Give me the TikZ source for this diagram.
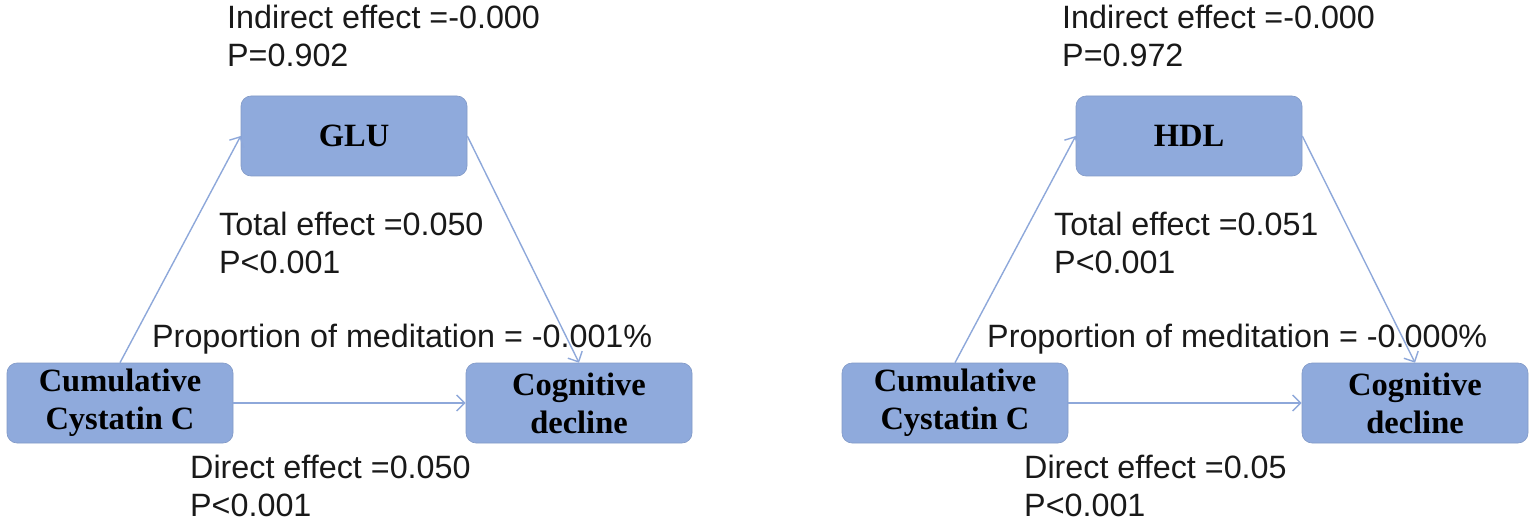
\documentclass[tikz,border=0pt]{standalone}
\usepackage{fontspec}
\setmainfont{Liberation Sans}
\newfontfamily\boxfont{Liberation Serif}
\usetikzlibrary{arrows.meta}
\definecolor{boxblue}{HTML}{8FAADC}
\definecolor{lineblue}{HTML}{8EA8DA}
\tikzstyle{blue box}=[
        draw = boxblue!90!black,
        line width = 0.6pt,
        fill = boxblue,
        rounded corners = 10pt,
        minimum width = 226pt,
        minimum height = 80pt,
        align = center,
        font = \boxfont\bfseries\fontsize{32.5}{38}\selectfont
    ]
\tikzstyle{effect text}=[
        anchor = base west,
        inner sep = 0pt,
        align = left,
        text = black!90,
        font = \fontsize{32.3}{38}\selectfont
    ]

\begin{document}
\begin{tikzpicture}[x=1pt, y=-1pt, >={Straight Barb[length=8pt,width=16pt]}, link/.style = {->, draw = lineblue, line width = 1.4pt}]
        \useasboundingbox (0,0) rectangle (1535,524);

        % left panel
        \node[blue box] (M1) at (354,136) {GLU};
        \node[blue box] (X1) at (120,403) {Cumulative\\Cystatin C};
        \node[blue box] (Y1) at (579,403) {Cognitive\\decline};

        \draw[link] (X1.north) -- (M1.west);
        \draw[link] (M1.east) -- (Y1.north);
        \draw[link] (X1.east) -- (Y1.west);

        % base west sits on the last line
        \node[effect text] (I1) at (227,67) {Indirect effect =-0.000\\P=0.902};
        \node[effect text] (T1) at (219,273) {Total effect =0.050\\P<0.001};
        \node[effect text] (R1) at (152,347) {Proportion of meditation = -0.001\%};
        \node[effect text] (D1) at (190,516) {Direct effect =0.050\\P<0.001};

        % right panel
        \node[blue box] (M2) at (1189,136) {HDL};
        \node[blue box] (X2) at (955,403) {Cumulative\\Cystatin C};
        \node[blue box] (Y2) at (1415,403) {Cognitive\\decline};

        \draw[link] (X2.north) -- (M2.west);
        \draw[link] (M2.east) -- (Y2.north);
        \draw[link] (X2.east) -- (Y2.west);

        \node[effect text] (I2) at (1062,67) {Indirect effect =-0.000\\P=0.972};
        \node[effect text] (T2) at (1054,273) {Total effect =0.051\\P<0.001};
        \node[effect text] (R2) at (987,347) {Proportion of meditation = -0.000\%};
        \node[effect text] (D2) at (1024,516) {Direct effect =0.05\\P<0.001};
    \end{tikzpicture}
\end{document}
